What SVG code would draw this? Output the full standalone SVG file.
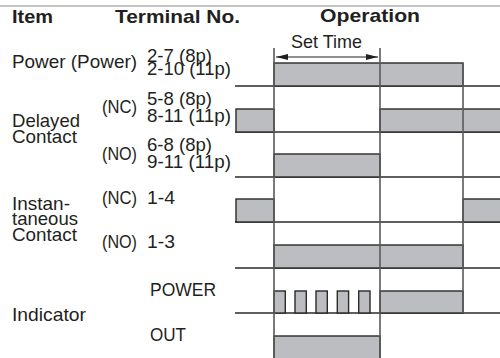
<svg xmlns="http://www.w3.org/2000/svg" width="500" height="358" viewBox="0 0 500 358">
<defs>
<style>
.t{font-family:"Liberation Sans",Arial,sans-serif;font-size:19px;fill:#231f20}
.h{font-family:"Liberation Sans",Arial,sans-serif;font-size:19px;font-weight:bold;fill:#231f20}
.bar{fill:#bcbdc0;stroke:#2a2a2a;stroke-width:1.4}
.base{stroke:#2a2a2a;stroke-width:1.3;fill:none}
.v{stroke:#5a5a5a;stroke-width:1.6;fill:none}
</style>
<marker id="ah" viewBox="0 0 12 6" refX="12" refY="3" markerWidth="12" markerHeight="6" markerUnits="userSpaceOnUse" orient="auto-start-reverse">
<path d="M0,0 L12,3 L0,6 Z" fill="#231f20"/>
</marker>
</defs>
<rect width="500" height="358" fill="#ffffff"/>
<line x1="0" y1="6" x2="500" y2="6" stroke="#8a8a8a" stroke-width="1.2"/>
<g id="header">
<text class="h" x="12" y="23" textLength="41" lengthAdjust="spacingAndGlyphs">Item</text>
<text class="h" x="115" y="23" textLength="125" lengthAdjust="spacingAndGlyphs">Terminal No.</text>
<text class="h" x="320" y="22" textLength="100" lengthAdjust="spacingAndGlyphs">Operation</text>
</g>
<g id="labels">
<text class="t" x="12" y="68" textLength="125" lengthAdjust="spacingAndGlyphs">Power (Power)</text>
<text class="t" x="147" y="62" textLength="65" lengthAdjust="spacingAndGlyphs">2-7 (8p)</text>
<text class="t" x="147" y="75" textLength="84" lengthAdjust="spacingAndGlyphs">2-10 (11p)</text>
<text class="t" x="102" y="113" textLength="35" lengthAdjust="spacingAndGlyphs">(NC)</text>
<text class="t" x="147" y="105" textLength="65" lengthAdjust="spacingAndGlyphs">5-8 (8p)</text>
<text class="t" x="147" y="122" textLength="84" lengthAdjust="spacingAndGlyphs">8-11 (11p)</text>
<text class="t" x="12" y="127" textLength="68" lengthAdjust="spacingAndGlyphs">Delayed</text>
<text class="t" x="12" y="143" textLength="65" lengthAdjust="spacingAndGlyphs">Contact</text>
<text class="t" x="102" y="160" textLength="35" lengthAdjust="spacingAndGlyphs">(NO)</text>
<text class="t" x="147" y="151" textLength="65" lengthAdjust="spacingAndGlyphs">6-8 (8p)</text>
<text class="t" x="147" y="168" textLength="84" lengthAdjust="spacingAndGlyphs">9-11 (11p)</text>
<text class="t" x="102" y="204" textLength="35" lengthAdjust="spacingAndGlyphs">(NC)</text>
<text class="t" x="147" y="204" textLength="28" lengthAdjust="spacingAndGlyphs">1-4</text>
<text class="t" x="12" y="210" textLength="58" lengthAdjust="spacingAndGlyphs">Instan-</text>
<text class="t" x="12" y="225" textLength="66" lengthAdjust="spacingAndGlyphs">taneous</text>
<text class="t" x="12" y="241" textLength="65" lengthAdjust="spacingAndGlyphs">Contact</text>
<text class="t" x="102" y="248" textLength="35" lengthAdjust="spacingAndGlyphs">(NO)</text>
<text class="t" x="147" y="248" textLength="28" lengthAdjust="spacingAndGlyphs">1-3</text>
<text class="t" x="150" y="296" textLength="66" lengthAdjust="spacingAndGlyphs">POWER</text>
<text class="t" x="12" y="321" textLength="74" lengthAdjust="spacingAndGlyphs">Indicator</text>
<text class="t" x="150" y="341" textLength="36" lengthAdjust="spacingAndGlyphs">OUT</text>
<text class="t" x="291" y="48" textLength="71" lengthAdjust="spacingAndGlyphs">Set Time</text>
</g>
<g id="row-power">
<line class="base" x1="235" y1="86" x2="500" y2="86"/>
<rect class="bar" x="274" y="63" width="189" height="23"/>
</g>
<g id="row-delayed-nc">
<line class="base" x1="235" y1="132" x2="500" y2="132"/>
<rect class="bar" x="236" y="109" width="38" height="23"/>
<rect class="bar" x="380" y="109" width="124" height="23"/>
</g>
<g id="row-delayed-no">
<line class="base" x1="235" y1="177" x2="500" y2="177"/>
<rect class="bar" x="274" y="154" width="106" height="23"/>
</g>
<g id="row-inst-nc">
<line class="base" x1="235" y1="222" x2="500" y2="222"/>
<rect class="bar" x="236" y="199" width="38" height="23"/>
<rect class="bar" x="463" y="199" width="41" height="23"/>
</g>
<g id="row-inst-no">
<line class="base" x1="235" y1="268" x2="500" y2="268"/>
<rect class="bar" x="274" y="245" width="189" height="23"/>
</g>
<g id="row-ind-power">
<line class="base" x1="235" y1="313" x2="500" y2="313"/>
<rect class="bar" x="274" y="291" width="11.3" height="22"/>
<rect class="bar" x="295" y="291" width="11.3" height="22"/>
<rect class="bar" x="316" y="291" width="11.3" height="22"/>
<rect class="bar" x="337.3" y="291" width="11.3" height="22"/>
<rect class="bar" x="358.7" y="291" width="11.3" height="22"/>
<rect class="bar" x="380" y="291" width="83" height="22"/>
</g>
<g id="row-ind-out">
<rect class="bar" x="274" y="336" width="106" height="26"/>
</g>
<g id="connectors">
<line class="v" x1="274" y1="48" x2="274" y2="358"/>
<line class="v" x1="380" y1="48" x2="380" y2="358"/>
<line class="v" x1="463" y1="63" x2="463" y2="313"/>
<line x1="276" y1="57" x2="378" y2="57" stroke="#231f20" stroke-width="1.2" marker-start="url(#ah)" marker-end="url(#ah)"/>
</g>
</svg>
